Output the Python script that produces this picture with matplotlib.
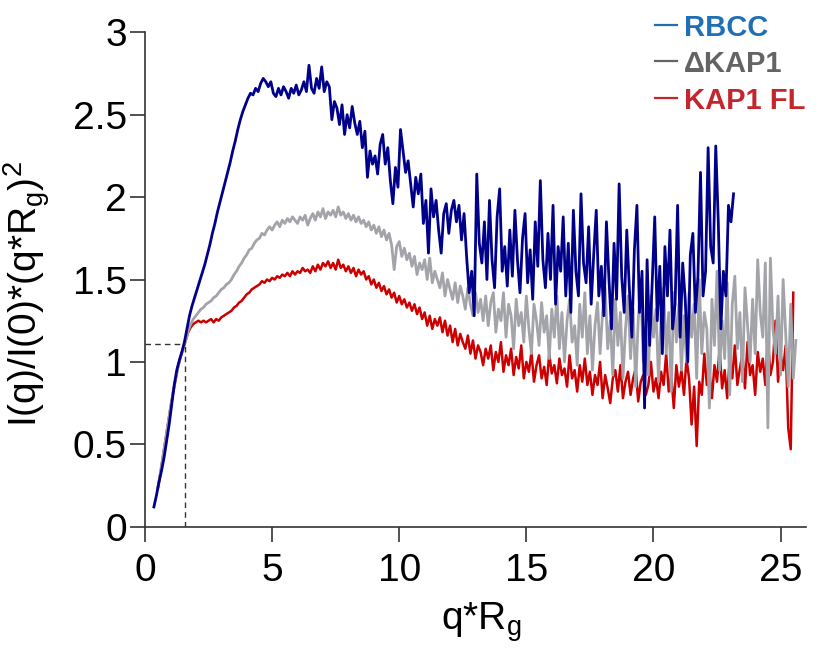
import numpy as np
import matplotlib
matplotlib.use("Agg")
import matplotlib.pyplot as plt
from matplotlib.lines import Line2D

plt.rcParams['font.family'] = ['Liberation Sans', 'DejaVu Sans']
plt.rcParams['mathtext.default'] = 'regular'

# Kratky data, sampled on a regular q*Rg grid (start, step)
rbcc_start, rbcc_step = 0.35, 0.1
rbcc = [0.12, 0.19, 0.27, 0.34, 0.42, 0.52, 0.62, 0.74, 0.86, 0.95,
        1.01, 1.06, 1.12, 1.20, 1.28, 1.34, 1.39, 1.44, 1.49, 1.54,
        1.59, 1.65, 1.71, 1.78, 1.84, 1.91, 1.97, 2.03, 2.09, 2.15,
        2.21, 2.28, 2.34, 2.41, 2.47, 2.52, 2.56, 2.60, 2.63, 2.62,
        2.66, 2.64, 2.69, 2.72, 2.70, 2.67, 2.70, 2.63, 2.61, 2.66,
        2.62, 2.67, 2.64, 2.60, 2.66, 2.63, 2.68, 2.62, 2.65, 2.70,
        2.64, 2.80, 2.66, 2.63, 2.72, 2.66, 2.79, 2.64, 2.70, 2.67,
        2.47, 2.58, 2.54, 2.44, 2.56, 2.38, 2.50, 2.42, 2.55, 2.45,
        2.38, 2.46, 2.30, 2.40, 2.12, 2.28, 2.20, 2.25, 2.14, 2.32,
        2.38, 2.20, 2.30, 2.10, 1.96, 2.18, 2.06, 2.41, 2.28, 2.15,
        2.22, 2.08, 1.94, 2.12, 2.02, 2.14, 1.84, 1.98, 1.66, 2.05,
        1.88, 1.98, 1.80, 1.66, 1.90, 1.96, 1.78, 1.92, 1.98, 1.85,
        1.95, 1.74, 1.90, 1.64, 1.42, 1.55, 1.28, 2.14, 1.72, 1.60,
        1.85, 1.50, 1.98, 1.62, 1.45, 1.88, 2.05, 1.55, 1.70, 1.46,
        1.80, 1.52, 1.92, 1.62, 1.42, 1.75, 1.90, 1.48, 1.68, 1.38,
        1.85, 1.58, 2.10, 1.62, 1.45, 1.78, 1.50, 1.95, 1.35, 1.70,
        1.55, 1.88, 1.40, 1.72, 1.30, 1.92, 1.55, 1.40, 2.02, 1.60,
        1.48, 1.82, 1.35, 1.65, 1.92, 1.40, 1.58, 1.28, 1.85, 1.50,
        1.20, 1.72, 1.38, 2.08, 1.52, 1.30, 1.80, 1.45, 1.15, 1.68,
        1.95, 1.30, 1.55, 0.72, 1.62, 1.10, 1.48, 1.88, 1.25, 1.58,
        1.05, 1.70, 1.40, 1.80, 1.20, 1.35, 1.95, 1.15, 1.60, 1.38,
        1.00, 1.65, 1.78, 1.30, 1.52, 2.15, 1.40, 1.55, 2.30, 1.70,
        1.60, 2.31, 1.85, 1.20, 1.55, 1.40, 1.95, 1.85, 2.02]

dkap1_start, dkap1_step = 0.50, 0.1
dkap1 = [0.23, 0.32, 0.42, 0.52, 0.62, 0.72, 0.81, 0.89, 0.97, 1.03,
         1.08, 1.13, 1.19, 1.23, 1.26, 1.28, 1.30, 1.32, 1.33, 1.35,
         1.36, 1.37, 1.39, 1.40, 1.42, 1.44, 1.45, 1.47, 1.48, 1.50,
         1.53, 1.55, 1.58, 1.60, 1.63, 1.65, 1.68, 1.69, 1.72, 1.74,
         1.75, 1.78, 1.77, 1.80, 1.82, 1.80, 1.83, 1.85, 1.82, 1.86,
         1.84, 1.87, 1.85, 1.88, 1.86, 1.84, 1.88, 1.86, 1.89, 1.83,
         1.87, 1.90, 1.86, 1.91, 1.88, 1.93, 1.87, 1.91, 1.89, 1.92,
         1.88, 1.94, 1.89, 1.91, 1.87, 1.90, 1.86, 1.89, 1.85, 1.88,
         1.84, 1.86, 1.82, 1.85, 1.80, 1.83, 1.78, 1.82, 1.76, 1.80,
         1.74, 1.78, 1.71, 1.56, 1.70, 1.73, 1.64, 1.69, 1.62, 1.66,
         1.58, 1.64, 1.53, 1.60, 1.56, 1.62, 1.50, 1.63, 1.48, 1.55,
         1.50, 1.45, 1.54, 1.40, 1.50, 1.44, 1.38, 1.48, 1.36, 1.46,
         1.40, 1.32, 1.45, 1.35, 1.28, 1.42, 1.30, 1.38, 1.25, 1.40,
         1.22, 1.36, 1.42, 1.18, 1.32, 1.25, 1.42, 1.15, 1.35, 1.28,
         1.08, 1.38, 1.22, 1.30, 1.12, 1.40, 1.20, 1.05, 1.35, 1.25,
         1.10, 1.36, 1.18, 1.28, 1.02, 1.32, 1.15, 1.40, 1.08, 1.30,
         1.00, 1.25, 1.38, 1.12, 1.22, 0.98, 1.35, 1.15, 1.42, 1.05,
         1.28, 0.95, 1.22, 1.36, 1.05, 1.30, 1.45, 1.08, 1.25, 0.92,
         1.38, 1.10, 1.30, 0.90, 1.20, 1.40, 1.02, 1.32, 0.85, 1.25,
         1.48, 1.00, 1.22, 0.92, 1.40, 1.15, 1.32, 0.88, 1.28, 1.45,
         1.05, 1.30, 0.82, 1.42, 1.12, 1.35, 0.95, 1.28, 1.00, 1.42,
         1.15, 1.35, 0.90, 1.50, 1.05, 1.30, 1.20, 0.72, 1.38, 1.10,
         1.55, 0.95, 1.25, 1.02, 1.48, 0.80, 1.35, 1.52, 1.08, 1.30,
         0.88, 1.45, 1.22, 1.00, 1.38, 1.05, 1.62, 1.30, 1.15, 1.60,
         0.60, 1.63, 1.20, 1.05, 1.40, 0.92, 1.50, 1.18, 0.85, 1.35,
         0.90, 1.13]

kap1fl_start, kap1fl_step = 0.50, 0.1
kap1fl = [0.23, 0.32, 0.42, 0.52, 0.62, 0.72, 0.81, 0.89, 0.97, 1.03,
          1.08, 1.13, 1.18, 1.21, 1.23, 1.24, 1.25, 1.24, 1.25, 1.24,
          1.25, 1.26, 1.24, 1.26, 1.25, 1.27, 1.28, 1.29, 1.30, 1.31,
          1.33, 1.34, 1.36, 1.37, 1.39, 1.41, 1.42, 1.44, 1.45, 1.46,
          1.47, 1.49, 1.48, 1.50, 1.49, 1.51, 1.50, 1.52, 1.51, 1.53,
          1.52, 1.54, 1.52, 1.55, 1.53, 1.55, 1.54, 1.57, 1.55, 1.56,
          1.54, 1.58, 1.55, 1.59, 1.56, 1.60, 1.58, 1.61, 1.57, 1.60,
          1.56, 1.62, 1.57, 1.59, 1.55, 1.58, 1.54, 1.57, 1.52, 1.56,
          1.53, 1.55, 1.50, 1.52, 1.47, 1.50, 1.45, 1.48, 1.43, 1.46,
          1.41, 1.44, 1.39, 1.42, 1.36, 1.40, 1.35, 1.38, 1.33, 1.36,
          1.31, 1.35, 1.29, 1.33, 1.26, 1.30, 1.22, 1.28, 1.20, 1.26,
          1.22, 1.27, 1.18, 1.25, 1.16, 1.22, 1.12, 1.20, 1.10, 1.17,
          1.12, 1.08, 1.16, 1.05, 1.13, 1.02, 1.10, 1.06, 0.98, 1.08,
          1.02, 1.10, 0.95, 1.06, 1.00, 1.12, 0.94, 1.04, 0.98, 1.08,
          0.92, 1.03, 0.96, 1.10, 0.90, 1.00, 0.94, 1.06, 0.88, 0.98,
          1.04, 0.90, 0.97, 0.86, 1.05, 0.93, 0.98, 0.87, 1.02, 0.92,
          0.96, 0.85, 1.04, 0.90, 0.95, 0.82, 0.98, 0.88, 1.02, 0.86,
          0.94, 0.80, 0.92, 0.86, 1.00, 0.78, 0.92, 0.84, 0.75, 0.90,
          0.95, 0.82, 0.98, 0.78, 0.88, 0.94, 0.80, 0.90, 0.96, 0.76,
          0.88, 0.92, 0.80, 0.86, 1.00, 0.82, 0.90, 0.78, 0.94, 0.86,
          1.05, 0.82, 0.92, 0.72, 0.98, 0.85, 0.95, 0.80, 1.02, 0.90,
          0.62, 0.85, 0.49, 0.88, 0.80, 1.05, 0.86, 0.94, 0.78, 0.98,
          0.88, 1.08, 0.84, 0.95, 0.78, 1.02, 0.90, 1.10, 0.86, 0.96,
          1.05, 0.84, 1.12, 0.92, 0.98, 0.80, 1.06, 0.94, 1.02, 0.86,
          1.15, 0.92, 1.00, 1.25, 0.88, 1.05, 0.95, 1.10, 0.60, 0.47,
          1.42]

# Guinier point guide
guinier_q = 1.58
guinier_y = 1.11

series = [
    ("RBCC", rbcc_start, rbcc_step, rbcc, "#00008b", "#1f6fb7", 2.0),
    ("\u0394KAP1", dkap1_start, dkap1_step, dkap1, "#a3a3aa", "#646464", 2.0),
    ("KAP1 FL", kap1fl_start, kap1fl_step, kap1fl, "#cc0000", "#c4262e", 1.8),
]

fig = plt.figure(figsize=(8.19, 6.55), dpi=100)
ax = fig.add_axes([145 / 819, 1 - 526.7 / 655, 661 / 819, 494.4 / 655])

# red underneath, blue on top
for k in [2, 1, 0]:
    name, start, step, vals, col, _, lw = series[k]
    q = start + step * np.arange(len(vals))
    ax.plot(q, vals, color=col, lw=lw)

ax.plot([0, guinier_q], [guinier_y, guinier_y], color="#333333", lw=1.0,
        dashes=(4, 3))
ax.plot([guinier_q, guinier_q], [0, guinier_y], color="#333333", lw=1.0,
        dashes=(4, 3))

ax.set_xlim(0, 26)
ax.set_ylim(0, 3)
ax.set_xticks([0, 5, 10, 15, 20, 25])
ax.set_yticks([0, 0.5, 1, 1.5, 2, 2.5, 3])
ax.set_yticklabels(['0', '0.5', '1', '1.5', '2', '2.5', '3'])

for s in ['top', 'right']:
    ax.spines[s].set_visible(False)
for s in ['left', 'bottom']:
    ax.spines[s].set_color('#333333')
    ax.spines[s].set_linewidth(1.2)
ax.tick_params(direction='out', length=11, width=1.2, color='#333333',
               labelsize=28)
ax.tick_params(axis='y', pad=2)
ax.tick_params(axis='x', pad=8)

ax.set_xlabel("q*R$_g$", fontsize=28)
ax.xaxis.set_label_coords(0.508, -0.148)
ax.set_ylabel("I(q)/I(0)*(q*R$_g$)$^2$", fontsize=28)
ax.yaxis.set_label_coords(-0.14, 0.47)

# legend drawn by hand, top right
leg_y = [25, 61, 98]
for (name, _, _, _, _, tcol, _), y in zip(series, leg_y):
    fy = 1 - y / 655
    fig.add_artist(Line2D([655 / 819, 677 / 819], [fy, fy],
                          transform=fig.transFigure, color=tcol, lw=1.6))
    fig.text(684 / 819, fy, name, color=tcol, fontsize=21,
             fontweight='bold', va='center_baseline', ha='left')

fig.savefig("out.png", dpi=100)
